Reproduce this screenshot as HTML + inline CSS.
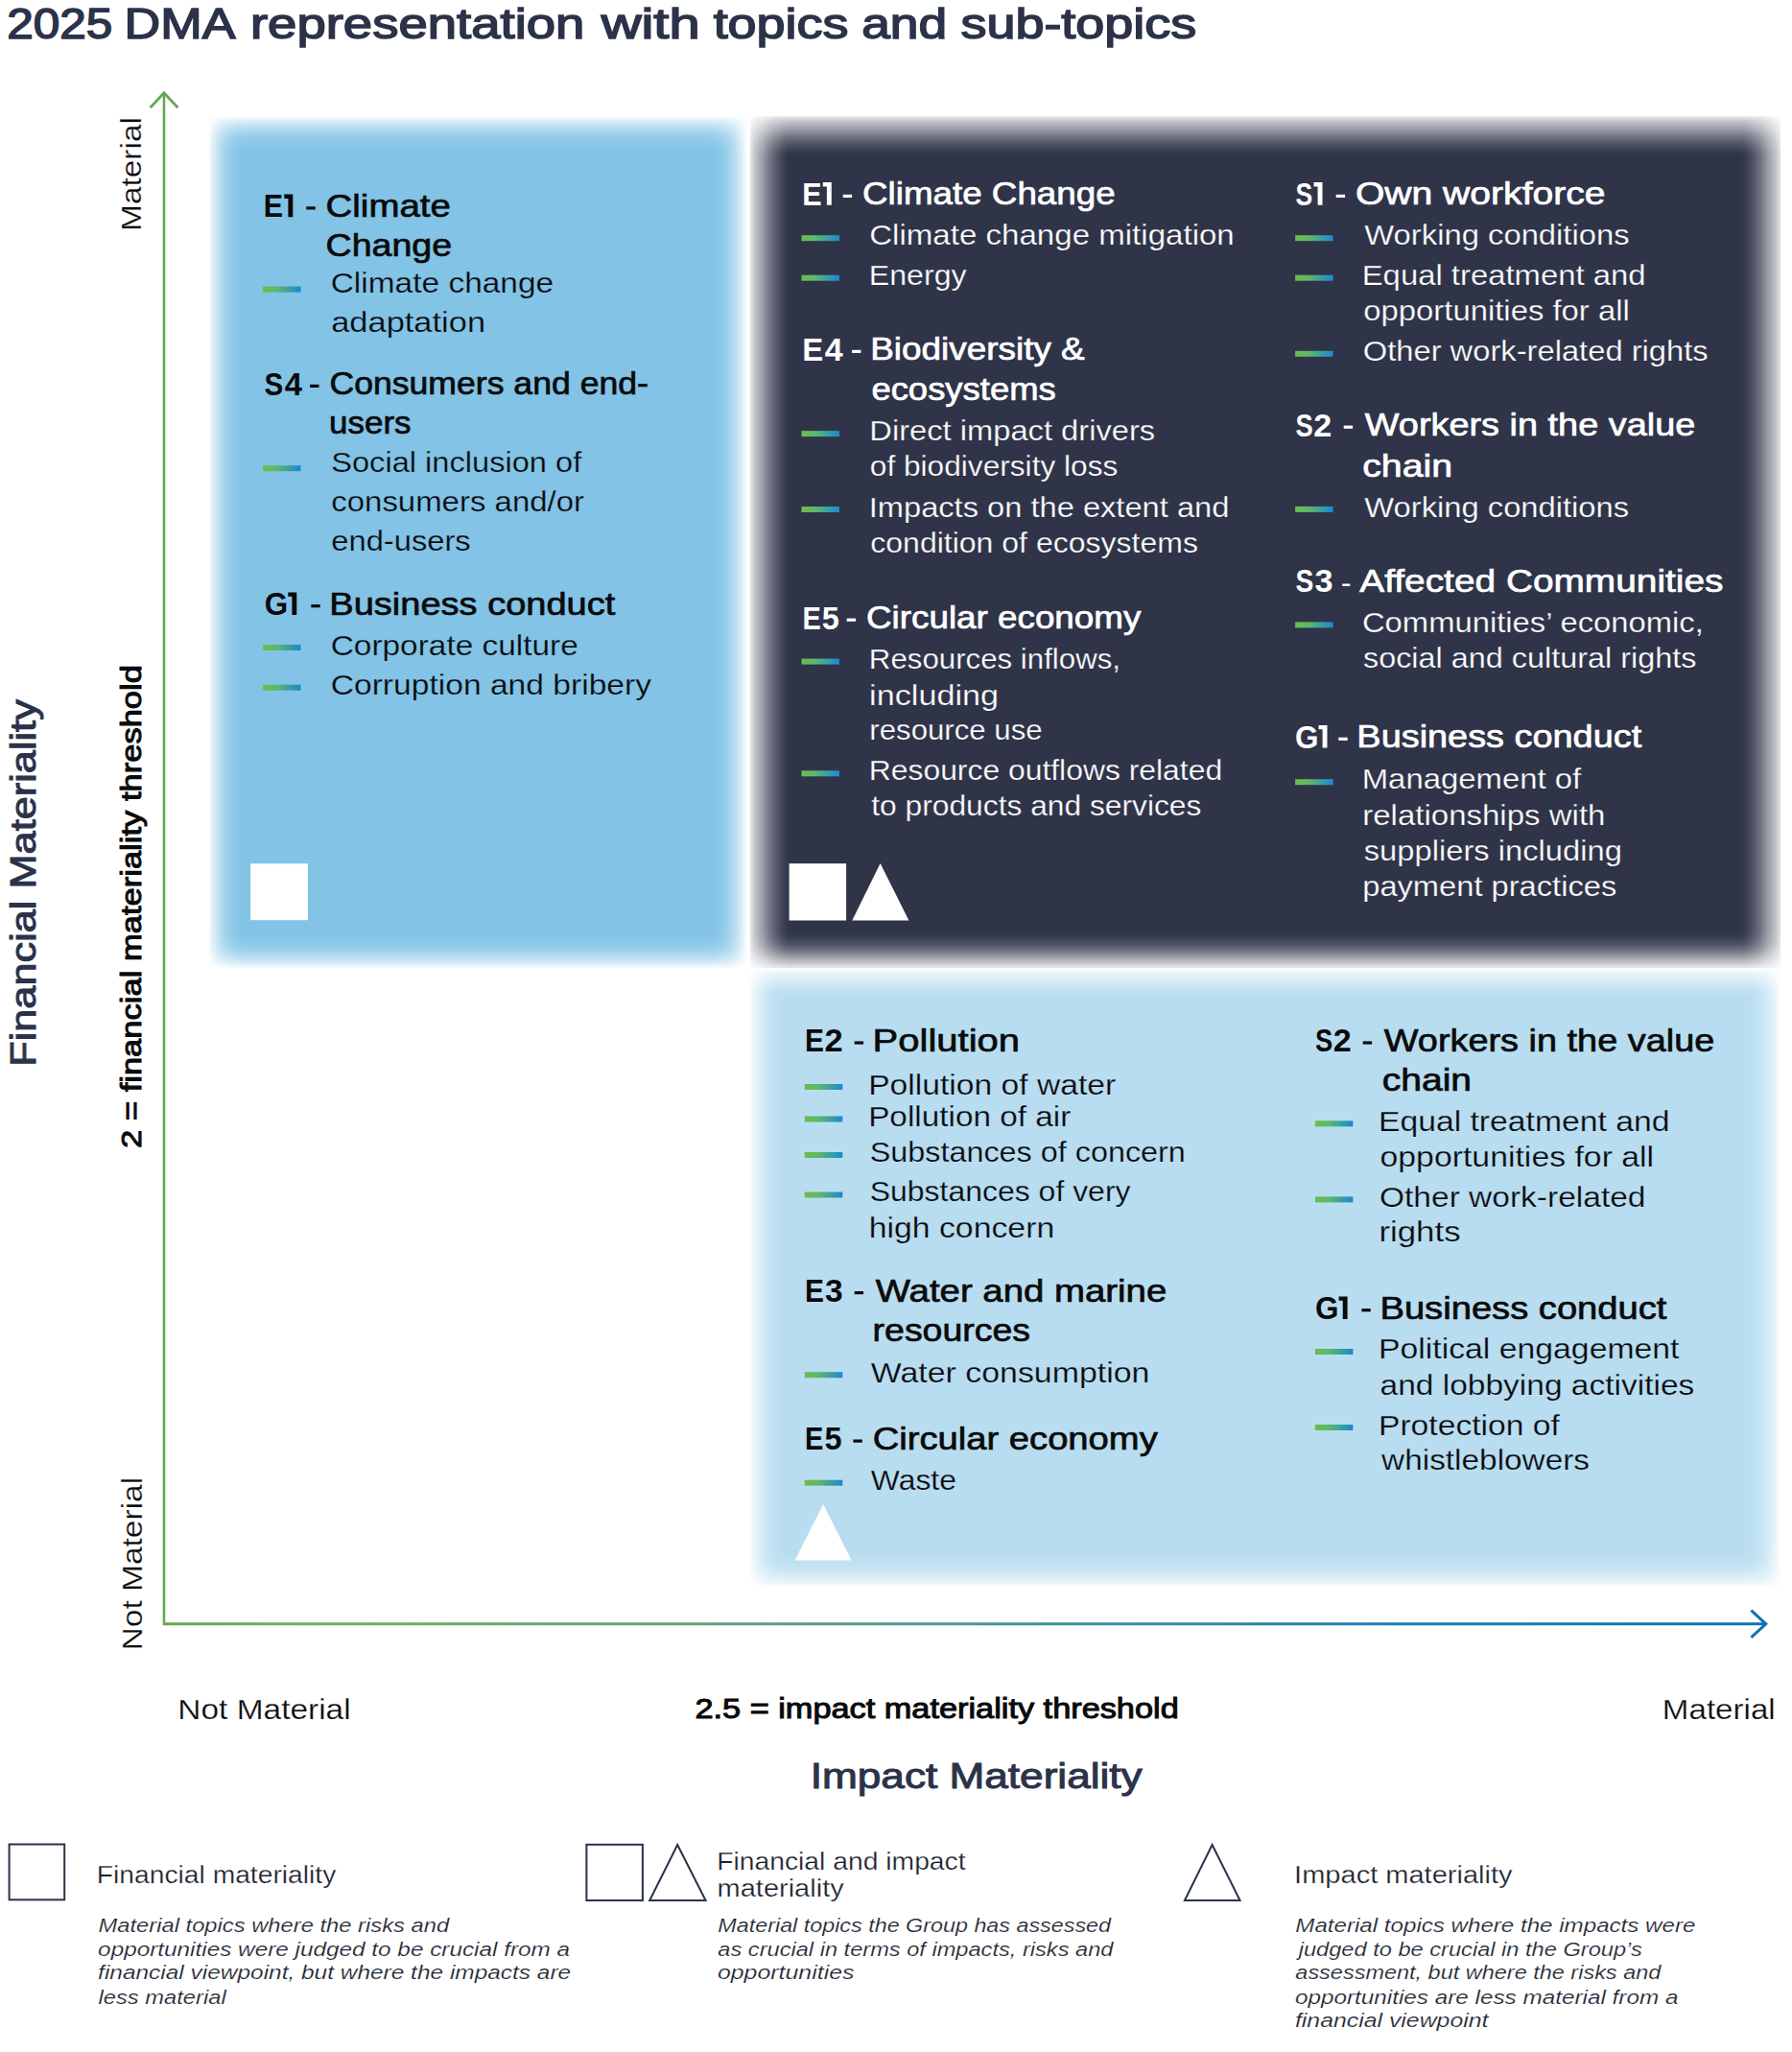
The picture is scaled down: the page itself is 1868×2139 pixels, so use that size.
<!DOCTYPE html>
<html><head><meta charset="utf-8"><title>2025 DMA representation</title>
<style>
html,body{margin:0;padding:0;background:#fff;}
body{width:1868px;height:2139px;overflow:hidden;}
svg{display:block;font-family:"Liberation Sans",sans-serif;}
</style></head><body>
<svg width="1868" height="2139" viewBox="0 0 1868 2139">
<defs>
<linearGradient id="dg" x1="0" y1="0" x2="1" y2="0"><stop offset="0" stop-color="#6cbd48"/><stop offset="0.35" stop-color="#5fb86a"/><stop offset="1" stop-color="#1a8ad0"/></linearGradient>
<linearGradient id="xg" gradientUnits="userSpaceOnUse" x1="170" y1="0" x2="1841" y2="0"><stop offset="0" stop-color="#64a852"/><stop offset="0.078" stop-color="#6fad60"/><stop offset="0.27" stop-color="#66a870"/><stop offset="0.51" stop-color="#4a9498"/><stop offset="0.75" stop-color="#1e7fb0"/><stop offset="1" stop-color="#0a76b4"/></linearGradient>
<linearGradient id="pagh" gradientUnits="userSpaceOnUse" x1="217.5" y1="0" x2="778.0" y2="0"><stop offset="0.00000" stop-color="#fff" stop-opacity="0.070"/><stop offset="0.00268" stop-color="#fff" stop-opacity="0.110"/><stop offset="0.00714" stop-color="#fff" stop-opacity="0.250"/><stop offset="0.01427" stop-color="#fff" stop-opacity="0.410"/><stop offset="0.02141" stop-color="#fff" stop-opacity="0.570"/><stop offset="0.02855" stop-color="#fff" stop-opacity="0.690"/><stop offset="0.03568" stop-color="#fff" stop-opacity="0.800"/><stop offset="0.04460" stop-color="#fff" stop-opacity="0.890"/><stop offset="0.05352" stop-color="#fff" stop-opacity="0.950"/><stop offset="0.06244" stop-color="#fff" stop-opacity="0.985"/><stop offset="0.07136" stop-color="#fff" stop-opacity="1.000"/><stop offset="0.92864" stop-color="#fff" stop-opacity="1.000"/><stop offset="0.93756" stop-color="#fff" stop-opacity="0.985"/><stop offset="0.94648" stop-color="#fff" stop-opacity="0.950"/><stop offset="0.95540" stop-color="#fff" stop-opacity="0.890"/><stop offset="0.96432" stop-color="#fff" stop-opacity="0.800"/><stop offset="0.97145" stop-color="#fff" stop-opacity="0.690"/><stop offset="0.97859" stop-color="#fff" stop-opacity="0.570"/><stop offset="0.98573" stop-color="#fff" stop-opacity="0.410"/><stop offset="0.99286" stop-color="#fff" stop-opacity="0.250"/><stop offset="0.99732" stop-color="#fff" stop-opacity="0.110"/><stop offset="1.00000" stop-color="#fff" stop-opacity="0.070"/></linearGradient>
<linearGradient id="pagv" gradientUnits="userSpaceOnUse" x1="0" y1="121.2" x2="0" y2="1009.5"><stop offset="0.00000" stop-color="#fff" stop-opacity="0.070"/><stop offset="0.00169" stop-color="#fff" stop-opacity="0.110"/><stop offset="0.00450" stop-color="#fff" stop-opacity="0.250"/><stop offset="0.00901" stop-color="#fff" stop-opacity="0.410"/><stop offset="0.01351" stop-color="#fff" stop-opacity="0.570"/><stop offset="0.01801" stop-color="#fff" stop-opacity="0.690"/><stop offset="0.02251" stop-color="#fff" stop-opacity="0.800"/><stop offset="0.02814" stop-color="#fff" stop-opacity="0.890"/><stop offset="0.03377" stop-color="#fff" stop-opacity="0.950"/><stop offset="0.03940" stop-color="#fff" stop-opacity="0.985"/><stop offset="0.04503" stop-color="#fff" stop-opacity="1.000"/><stop offset="0.95497" stop-color="#fff" stop-opacity="1.000"/><stop offset="0.96060" stop-color="#fff" stop-opacity="0.985"/><stop offset="0.96623" stop-color="#fff" stop-opacity="0.950"/><stop offset="0.97186" stop-color="#fff" stop-opacity="0.890"/><stop offset="0.97749" stop-color="#fff" stop-opacity="0.800"/><stop offset="0.98199" stop-color="#fff" stop-opacity="0.690"/><stop offset="0.98649" stop-color="#fff" stop-opacity="0.570"/><stop offset="0.99099" stop-color="#fff" stop-opacity="0.410"/><stop offset="0.99550" stop-color="#fff" stop-opacity="0.250"/><stop offset="0.99831" stop-color="#fff" stop-opacity="0.110"/><stop offset="1.00000" stop-color="#fff" stop-opacity="0.070"/></linearGradient>
<mask id="pamh" style="mask-type:alpha" maskUnits="userSpaceOnUse" x="217.5" y="121.2" width="560.5" height="888.3"><rect x="217.5" y="121.2" width="560.5" height="888.3" fill="url(#pagh)"/></mask>
<mask id="pamv" style="mask-type:alpha" maskUnits="userSpaceOnUse" x="217.5" y="121.2" width="560.5" height="888.3"><rect x="217.5" y="121.2" width="560.5" height="888.3" fill="url(#pagv)"/></mask>
<linearGradient id="pbgh" gradientUnits="userSpaceOnUse" x1="781.5" y1="0" x2="1856.6" y2="0"><stop offset="0.00000" stop-color="#fff" stop-opacity="0.120"/><stop offset="0.00140" stop-color="#fff" stop-opacity="0.160"/><stop offset="0.00437" stop-color="#fff" stop-opacity="0.270"/><stop offset="0.00865" stop-color="#fff" stop-opacity="0.390"/><stop offset="0.01302" stop-color="#fff" stop-opacity="0.490"/><stop offset="0.01814" stop-color="#fff" stop-opacity="0.640"/><stop offset="0.02251" stop-color="#fff" stop-opacity="0.750"/><stop offset="0.02763" stop-color="#fff" stop-opacity="0.850"/><stop offset="0.03265" stop-color="#fff" stop-opacity="0.940"/><stop offset="0.03674" stop-color="#fff" stop-opacity="0.990"/><stop offset="0.04000" stop-color="#fff" stop-opacity="1.000"/><stop offset="0.96000" stop-color="#fff" stop-opacity="1.000"/><stop offset="0.96326" stop-color="#fff" stop-opacity="0.990"/><stop offset="0.96735" stop-color="#fff" stop-opacity="0.940"/><stop offset="0.97237" stop-color="#fff" stop-opacity="0.850"/><stop offset="0.97749" stop-color="#fff" stop-opacity="0.750"/><stop offset="0.98186" stop-color="#fff" stop-opacity="0.640"/><stop offset="0.98698" stop-color="#fff" stop-opacity="0.490"/><stop offset="0.99135" stop-color="#fff" stop-opacity="0.390"/><stop offset="0.99563" stop-color="#fff" stop-opacity="0.270"/><stop offset="0.99860" stop-color="#fff" stop-opacity="0.160"/><stop offset="1.00000" stop-color="#fff" stop-opacity="0.120"/></linearGradient>
<linearGradient id="pbgv" gradientUnits="userSpaceOnUse" x1="0" y1="121.1" x2="0" y2="1009.6"><stop offset="0.00000" stop-color="#fff" stop-opacity="0.120"/><stop offset="0.00169" stop-color="#fff" stop-opacity="0.160"/><stop offset="0.00529" stop-color="#fff" stop-opacity="0.270"/><stop offset="0.01047" stop-color="#fff" stop-opacity="0.390"/><stop offset="0.01576" stop-color="#fff" stop-opacity="0.490"/><stop offset="0.02195" stop-color="#fff" stop-opacity="0.640"/><stop offset="0.02724" stop-color="#fff" stop-opacity="0.750"/><stop offset="0.03343" stop-color="#fff" stop-opacity="0.850"/><stop offset="0.03950" stop-color="#fff" stop-opacity="0.940"/><stop offset="0.04446" stop-color="#fff" stop-opacity="0.990"/><stop offset="0.04840" stop-color="#fff" stop-opacity="1.000"/><stop offset="0.95498" stop-color="#fff" stop-opacity="1.000"/><stop offset="0.95858" stop-color="#fff" stop-opacity="0.990"/><stop offset="0.96421" stop-color="#fff" stop-opacity="0.940"/><stop offset="0.96995" stop-color="#fff" stop-opacity="0.870"/><stop offset="0.97569" stop-color="#fff" stop-opacity="0.770"/><stop offset="0.98143" stop-color="#fff" stop-opacity="0.620"/><stop offset="0.98706" stop-color="#fff" stop-opacity="0.460"/><stop offset="0.99280" stop-color="#fff" stop-opacity="0.300"/><stop offset="0.99707" stop-color="#fff" stop-opacity="0.170"/><stop offset="1.00000" stop-color="#fff" stop-opacity="0.120"/></linearGradient>
<mask id="pbmh" style="mask-type:alpha" maskUnits="userSpaceOnUse" x="781.5" y="121.1" width="1075.1" height="888.5"><rect x="781.5" y="121.1" width="1075.1" height="888.5" fill="url(#pbgh)"/></mask>
<mask id="pbmv" style="mask-type:alpha" maskUnits="userSpaceOnUse" x="781.5" y="121.1" width="1075.1" height="888.5"><rect x="781.5" y="121.1" width="1075.1" height="888.5" fill="url(#pbgv)"/></mask>
<linearGradient id="pcgh" gradientUnits="userSpaceOnUse" x1="781.4" y1="0" x2="1856.0" y2="0"><stop offset="0.00000" stop-color="#fff" stop-opacity="0.070"/><stop offset="0.00140" stop-color="#fff" stop-opacity="0.110"/><stop offset="0.00372" stop-color="#fff" stop-opacity="0.250"/><stop offset="0.00744" stop-color="#fff" stop-opacity="0.410"/><stop offset="0.01117" stop-color="#fff" stop-opacity="0.570"/><stop offset="0.01489" stop-color="#fff" stop-opacity="0.690"/><stop offset="0.01861" stop-color="#fff" stop-opacity="0.800"/><stop offset="0.02326" stop-color="#fff" stop-opacity="0.890"/><stop offset="0.02792" stop-color="#fff" stop-opacity="0.950"/><stop offset="0.03257" stop-color="#fff" stop-opacity="0.985"/><stop offset="0.03722" stop-color="#fff" stop-opacity="1.000"/><stop offset="0.96278" stop-color="#fff" stop-opacity="1.000"/><stop offset="0.96743" stop-color="#fff" stop-opacity="0.985"/><stop offset="0.97208" stop-color="#fff" stop-opacity="0.950"/><stop offset="0.97674" stop-color="#fff" stop-opacity="0.890"/><stop offset="0.98139" stop-color="#fff" stop-opacity="0.800"/><stop offset="0.98511" stop-color="#fff" stop-opacity="0.690"/><stop offset="0.98883" stop-color="#fff" stop-opacity="0.570"/><stop offset="0.99256" stop-color="#fff" stop-opacity="0.410"/><stop offset="0.99628" stop-color="#fff" stop-opacity="0.250"/><stop offset="0.99860" stop-color="#fff" stop-opacity="0.110"/><stop offset="1.00000" stop-color="#fff" stop-opacity="0.070"/></linearGradient>
<linearGradient id="pcgv" gradientUnits="userSpaceOnUse" x1="0" y1="1010.8" x2="0" y2="1654.5"><stop offset="0.00000" stop-color="#fff" stop-opacity="0.180"/><stop offset="0.00233" stop-color="#fff" stop-opacity="0.240"/><stop offset="0.00777" stop-color="#fff" stop-opacity="0.370"/><stop offset="0.01662" stop-color="#fff" stop-opacity="0.550"/><stop offset="0.02548" stop-color="#fff" stop-opacity="0.730"/><stop offset="0.03480" stop-color="#fff" stop-opacity="0.920"/><stop offset="0.04350" stop-color="#fff" stop-opacity="1.000"/><stop offset="0.93786" stop-color="#fff" stop-opacity="1.000"/><stop offset="0.94563" stop-color="#fff" stop-opacity="0.985"/><stop offset="0.95339" stop-color="#fff" stop-opacity="0.950"/><stop offset="0.96116" stop-color="#fff" stop-opacity="0.890"/><stop offset="0.96893" stop-color="#fff" stop-opacity="0.800"/><stop offset="0.97514" stop-color="#fff" stop-opacity="0.690"/><stop offset="0.98136" stop-color="#fff" stop-opacity="0.570"/><stop offset="0.98757" stop-color="#fff" stop-opacity="0.410"/><stop offset="0.99379" stop-color="#fff" stop-opacity="0.250"/><stop offset="0.99767" stop-color="#fff" stop-opacity="0.110"/><stop offset="1.00000" stop-color="#fff" stop-opacity="0.070"/></linearGradient>
<mask id="pcmh" style="mask-type:alpha" maskUnits="userSpaceOnUse" x="781.4" y="1010.8" width="1074.6" height="643.7"><rect x="781.4" y="1010.8" width="1074.6" height="643.7" fill="url(#pcgh)"/></mask>
<mask id="pcmv" style="mask-type:alpha" maskUnits="userSpaceOnUse" x="781.4" y="1010.8" width="1074.6" height="643.7"><rect x="781.4" y="1010.8" width="1074.6" height="643.7" fill="url(#pcgv)"/></mask>
</defs>
<rect width="1868" height="2139" fill="#fff"/>
<g mask="url(#pamh)"><rect x="217.5" y="121.2" width="560.5" height="888.3" fill="#82c3e6" mask="url(#pamv)"/></g>
<g mask="url(#pbmh)"><rect x="781.5" y="121.1" width="1075.1" height="888.5" fill="#2f3449" mask="url(#pbmv)"/></g>
<g mask="url(#pcmh)"><rect x="781.4" y="1010.8" width="1074.6" height="643.7" fill="#b8ddf0" mask="url(#pcmv)"/></g>

<rect x="261.2" y="900.2" width="59.8" height="59" fill="#fff"/>
<rect x="822.6" y="900.1" width="59.5" height="59.4" fill="#fff"/>
<polygon points="917.6,900.1 947.4,959.5 888.3,959.5" fill="#fff"/>
<polygon points="858.2,1568 887.5,1626.6 828.6,1626.6" fill="#fff"/>
<line x1="171" y1="96" x2="171" y2="1694" stroke="#64a852" stroke-width="2.6"/>
<polyline points="156.6,112.3 171,96.8 185.4,112.3" fill="none" stroke="#64a852" stroke-width="2.8"/>
<line x1="169.8" y1="1692.8" x2="1841" y2="1692.8" stroke="url(#xg)" stroke-width="2.9"/>
<polyline points="1825.4,1678.6 1840.8,1692.8 1825.4,1706.8" fill="none" stroke="#0a74b4" stroke-width="3"/>
<rect x="9.6" y="1922.5" width="57.6" height="57.8" fill="none" stroke="#2b3249" stroke-width="2"/>
<rect x="611.4" y="1922.8" width="58.5" height="58.2" fill="none" stroke="#2b3249" stroke-width="2"/>
<polygon points="706.2,1923 735.6,1981 677.2,1981" fill="none" stroke="#2b3249" stroke-width="2"/>
<polygon points="1263.6,1923 1292.6,1981 1234.9,1981" fill="none" stroke="#2b3249" stroke-width="2"/>

<rect x="274.2" y="298.6" width="39.3" height="6" fill="url(#dg)"/><rect x="274.2" y="485.2" width="39.3" height="6" fill="url(#dg)"/><rect x="274.2" y="672.0" width="39.3" height="6" fill="url(#dg)"/><rect x="274.2" y="713.7" width="39.3" height="6" fill="url(#dg)"/><rect x="835.5" y="245.2" width="39.5" height="6" fill="url(#dg)"/><rect x="835.5" y="286.7" width="39.5" height="6" fill="url(#dg)"/><rect x="835.5" y="449.1" width="39.5" height="6" fill="url(#dg)"/><rect x="835.5" y="528.0" width="39.5" height="6" fill="url(#dg)"/><rect x="835.5" y="686.6" width="39.5" height="6" fill="url(#dg)"/><rect x="835.5" y="803.3" width="39.5" height="6" fill="url(#dg)"/><rect x="1350.1" y="245.2" width="39.5" height="6" fill="url(#dg)"/><rect x="1350.1" y="286.7" width="39.5" height="6" fill="url(#dg)"/><rect x="1350.1" y="365.8" width="39.5" height="6" fill="url(#dg)"/><rect x="1350.1" y="527.9" width="39.5" height="6" fill="url(#dg)"/><rect x="1350.1" y="648.4" width="39.5" height="6" fill="url(#dg)"/><rect x="1350.1" y="812.2" width="39.5" height="6" fill="url(#dg)"/><rect x="838.8" y="1130.0" width="39.5" height="6" fill="url(#dg)"/><rect x="838.8" y="1163.5" width="39.5" height="6" fill="url(#dg)"/><rect x="838.8" y="1201.0" width="39.5" height="6" fill="url(#dg)"/><rect x="838.8" y="1242.5" width="39.5" height="6" fill="url(#dg)"/><rect x="838.8" y="1430.2" width="39.5" height="6" fill="url(#dg)"/><rect x="838.8" y="1542.7" width="39.5" height="6" fill="url(#dg)"/><rect x="1370.9" y="1168.3" width="39.5" height="6" fill="url(#dg)"/><rect x="1370.9" y="1247.4" width="39.5" height="6" fill="url(#dg)"/><rect x="1370.9" y="1406.0" width="39.5" height="6" fill="url(#dg)"/><rect x="1370.9" y="1485.0" width="39.5" height="6" fill="url(#dg)"/>
<text x="339.55" y="225.85" font-size="33.4" font-weight="400" fill="#0a0a0a" stroke="#0a0a0a" stroke-width="0.7" textLength="130.36" lengthAdjust="spacingAndGlyphs">Climate</text>
<text x="274.80" y="226.20" font-size="34" font-weight="700" fill="#0a0a0a" textLength="20.31" lengthAdjust="spacingAndGlyphs">E</text>
<path d="M300.4,202.6H305.3V226.2H300.4V206.9H296.3V202.6Z" fill="#0a0a0a"/>
<text x="343.48" y="411.35" font-size="33.4" font-weight="400" fill="#0a0a0a" stroke="#0a0a0a" stroke-width="0.7" textLength="332.46" lengthAdjust="spacingAndGlyphs">Consumers and end-</text>
<text x="275.54" y="411.70" font-size="34" font-weight="700" fill="#0a0a0a" textLength="19.69" lengthAdjust="spacingAndGlyphs">S</text>
<text x="296.85" y="411.70" font-size="34" font-weight="700" fill="#0a0a0a" textLength="18.24" lengthAdjust="spacingAndGlyphs">4</text>
<text x="343.38" y="640.65" font-size="33.4" font-weight="400" fill="#0a0a0a" stroke="#0a0a0a" stroke-width="0.7" textLength="297.94" lengthAdjust="spacingAndGlyphs">Business conduct</text>
<text x="275.72" y="641.00" font-size="34" font-weight="700" fill="#0a0a0a" textLength="24.44" lengthAdjust="spacingAndGlyphs">G</text>
<path d="M304.4,617.4H309.3V641.0H304.4V621.7H300.3V617.4Z" fill="#0a0a0a"/>
<text x="899.03" y="213.35" font-size="33.4" font-weight="400" fill="#ffffff" stroke="#ffffff" stroke-width="0.7" textLength="263.61" lengthAdjust="spacingAndGlyphs">Climate Change</text>
<text x="836.30" y="213.70" font-size="34" font-weight="700" fill="#ffffff" textLength="20.31" lengthAdjust="spacingAndGlyphs">E</text>
<path d="M861.9,190.1H866.8V213.7H861.9V194.4H857.8V190.1Z" fill="#ffffff"/>
<text x="907.17" y="375.35" font-size="33.4" font-weight="400" fill="#ffffff" stroke="#ffffff" stroke-width="0.7" textLength="223.58" lengthAdjust="spacingAndGlyphs">Biodiversity &amp;</text>
<text x="836.14" y="375.70" font-size="34" font-weight="700" fill="#ffffff" textLength="21.98" lengthAdjust="spacingAndGlyphs">E</text>
<text x="859.65" y="375.70" font-size="34" font-weight="700" fill="#ffffff" textLength="18.84" lengthAdjust="spacingAndGlyphs">4</text>
<text x="903.02" y="655.15" font-size="33.4" font-weight="400" fill="#ffffff" stroke="#ffffff" stroke-width="0.7" textLength="286.33" lengthAdjust="spacingAndGlyphs">Circular economy</text>
<text x="836.39" y="655.50" font-size="34" font-weight="700" fill="#ffffff" textLength="19.32" lengthAdjust="spacingAndGlyphs">E</text>
<text x="856.84" y="655.50" font-size="34" font-weight="700" fill="#ffffff" textLength="18.07" lengthAdjust="spacingAndGlyphs">5</text>
<text x="1412.92" y="213.35" font-size="33.4" font-weight="400" fill="#ffffff" stroke="#ffffff" stroke-width="0.7" textLength="260.62" lengthAdjust="spacingAndGlyphs">Own workforce</text>
<text x="1350.49" y="213.70" font-size="34" font-weight="700" fill="#ffffff" textLength="17.72" lengthAdjust="spacingAndGlyphs">S</text>
<path d="M1373.6,190.1H1378.5V213.7H1373.6V194.4H1369.5V190.1Z" fill="#ffffff"/>
<text x="1422.75" y="454.15" font-size="33.4" font-weight="400" fill="#ffffff" stroke="#ffffff" stroke-width="0.7" textLength="344.53" lengthAdjust="spacingAndGlyphs">Workers in the value</text>
<text x="1350.47" y="454.50" font-size="34" font-weight="700" fill="#ffffff" textLength="18.25" lengthAdjust="spacingAndGlyphs">S</text>
<text x="1369.33" y="454.50" font-size="34" font-weight="700" fill="#ffffff" textLength="19.02" lengthAdjust="spacingAndGlyphs">2</text>
<text x="1417.35" y="617.05" font-size="33.4" font-weight="400" fill="#ffffff" stroke="#ffffff" stroke-width="0.7" textLength="379.11" lengthAdjust="spacingAndGlyphs">Affected Communities</text>
<text x="1350.46" y="617.40" font-size="34" font-weight="700" fill="#ffffff" textLength="18.84" lengthAdjust="spacingAndGlyphs">S</text>
<text x="1370.42" y="617.40" font-size="34" font-weight="700" fill="#ffffff" textLength="19.04" lengthAdjust="spacingAndGlyphs">3</text>
<text x="1414.39" y="779.25" font-size="33.4" font-weight="400" fill="#ffffff" stroke="#ffffff" stroke-width="0.7" textLength="296.83" lengthAdjust="spacingAndGlyphs">Business conduct</text>
<text x="1349.92" y="779.60" font-size="34" font-weight="700" fill="#ffffff" textLength="24.44" lengthAdjust="spacingAndGlyphs">G</text>
<path d="M1378.6,756.0H1383.5V779.6H1378.6V760.3H1374.5V756.0Z" fill="#ffffff"/>
<text x="909.63" y="1095.95" font-size="33.4" font-weight="400" fill="#0a0a0a" stroke="#0a0a0a" stroke-width="0.7" textLength="153.37" lengthAdjust="spacingAndGlyphs">Pollution</text>
<text x="839.03" y="1096.30" font-size="34" font-weight="700" fill="#0a0a0a" textLength="19.96" lengthAdjust="spacingAndGlyphs">E</text>
<text x="859.52" y="1096.30" font-size="34" font-weight="700" fill="#0a0a0a" textLength="19.24" lengthAdjust="spacingAndGlyphs">2</text>
<text x="912.75" y="1356.55" font-size="33.4" font-weight="400" fill="#0a0a0a" stroke="#0a0a0a" stroke-width="0.7" textLength="303.56" lengthAdjust="spacingAndGlyphs">Water and marine</text>
<text x="839.03" y="1356.90" font-size="34" font-weight="700" fill="#0a0a0a" textLength="19.96" lengthAdjust="spacingAndGlyphs">E</text>
<text x="860.08" y="1356.90" font-size="34" font-weight="700" fill="#0a0a0a" textLength="18.66" lengthAdjust="spacingAndGlyphs">3</text>
<text x="909.66" y="1511.05" font-size="33.4" font-weight="400" fill="#0a0a0a" stroke="#0a0a0a" stroke-width="0.7" textLength="297.09" lengthAdjust="spacingAndGlyphs">Circular economy</text>
<text x="839.09" y="1511.40" font-size="34" font-weight="700" fill="#0a0a0a" textLength="19.32" lengthAdjust="spacingAndGlyphs">E</text>
<text x="859.54" y="1511.40" font-size="34" font-weight="700" fill="#0a0a0a" textLength="18.07" lengthAdjust="spacingAndGlyphs">5</text>
<text x="1442.75" y="1095.95" font-size="33.4" font-weight="400" fill="#0a0a0a" stroke="#0a0a0a" stroke-width="0.7" textLength="344.53" lengthAdjust="spacingAndGlyphs">Workers in the value</text>
<text x="1370.97" y="1096.30" font-size="34" font-weight="700" fill="#0a0a0a" textLength="18.25" lengthAdjust="spacingAndGlyphs">S</text>
<text x="1389.83" y="1096.30" font-size="34" font-weight="700" fill="#0a0a0a" textLength="19.02" lengthAdjust="spacingAndGlyphs">2</text>
<text x="1438.47" y="1374.65" font-size="33.4" font-weight="400" fill="#0a0a0a" stroke="#0a0a0a" stroke-width="0.7" textLength="298.95" lengthAdjust="spacingAndGlyphs">Business conduct</text>
<text x="1371.02" y="1375.00" font-size="34" font-weight="700" fill="#0a0a0a" textLength="24.44" lengthAdjust="spacingAndGlyphs">G</text>
<path d="M1399.7,1351.4H1404.6V1375.0H1399.7V1355.7H1395.6V1351.4Z" fill="#0a0a0a"/>
<rect x="319.3" y="215.3" width="9.4" height="3.2" fill="#0a0a0a"/>
<rect x="323.1" y="400.8" width="9.4" height="3.2" fill="#0a0a0a"/>
<rect x="324.3" y="630.1" width="9.4" height="3.2" fill="#0a0a0a"/>
<rect x="878.7" y="202.8" width="9.4" height="3.2" fill="#ffffff"/>
<rect x="888.0" y="364.8" width="9.4" height="3.2" fill="#ffffff"/>
<rect x="882.7" y="644.6" width="9.4" height="3.2" fill="#ffffff"/>
<rect x="1392.7" y="202.8" width="9.4" height="3.2" fill="#ffffff"/>
<rect x="1400.7" y="443.6" width="9.4" height="3.2" fill="#ffffff"/>
<rect x="1399.2" y="608.5" width="8.1" height="2.5" fill="#ffffff"/>
<rect x="1395.3" y="768.7" width="9.4" height="3.2" fill="#ffffff"/>
<rect x="890.7" y="1085.4" width="9.4" height="3.2" fill="#0a0a0a"/>
<rect x="890.7" y="1346.0" width="9.4" height="3.2" fill="#0a0a0a"/>
<rect x="889.4" y="1500.5" width="9.4" height="3.2" fill="#0a0a0a"/>
<rect x="1420.7" y="1085.4" width="9.4" height="3.2" fill="#0a0a0a"/>
<rect x="1419.4" y="1364.1" width="9.4" height="3.2" fill="#0a0a0a"/>
<text x="7.33" y="40.25" font-size="44.5" font-weight="400" fill="#2b3249" stroke="#2b3249" stroke-width="1.5" textLength="110.02" lengthAdjust="spacingAndGlyphs">2025</text>
<text x="129.58" y="40.25" font-size="44.5" font-weight="400" fill="#2b3249" stroke="#2b3249" stroke-width="1.5" textLength="115.82" lengthAdjust="spacingAndGlyphs">DMA</text>
<text x="260.94" y="40.25" font-size="44.5" font-weight="400" fill="#2b3249" stroke="#2b3249" stroke-width="1.5" textLength="348.47" lengthAdjust="spacingAndGlyphs">representation</text>
<text x="626.65" y="40.25" font-size="44.5" font-weight="400" fill="#2b3249" stroke="#2b3249" stroke-width="1.5" textLength="102.95" lengthAdjust="spacingAndGlyphs">with</text>
<text x="743.65" y="40.25" font-size="44.5" font-weight="400" fill="#2b3249" stroke="#2b3249" stroke-width="1.5" textLength="140.89" lengthAdjust="spacingAndGlyphs">topics</text>
<text x="898.18" y="40.25" font-size="44.5" font-weight="400" fill="#2b3249" stroke="#2b3249" stroke-width="1.5" textLength="88.96" lengthAdjust="spacingAndGlyphs">and</text>
<text x="1001.41" y="40.25" font-size="44.5" font-weight="400" fill="#2b3249" stroke="#2b3249" stroke-width="1.5" textLength="245.93" lengthAdjust="spacingAndGlyphs">sub-topics</text>
<text x="339.59" y="266.85" font-size="33.4" font-weight="400" fill="#0a0a0a" stroke="#0a0a0a" stroke-width="0.7" textLength="131.58" lengthAdjust="spacingAndGlyphs">Change</text>
<text x="344.71" y="304.93" font-size="29.5" font-weight="400" fill="#0a0a0a" stroke="#82c3e6" stroke-width="0.25" textLength="232.47" lengthAdjust="spacingAndGlyphs">Climate change</text>
<text x="345.20" y="345.93" font-size="29.5" font-weight="400" fill="#0a0a0a" stroke="#82c3e6" stroke-width="0.25" textLength="160.86" lengthAdjust="spacingAndGlyphs">adaptation</text>
<text x="342.96" y="452.25" font-size="33.4" font-weight="400" fill="#0a0a0a" stroke="#0a0a0a" stroke-width="0.7" textLength="85.58" lengthAdjust="spacingAndGlyphs">users</text>
<text x="345.26" y="492.02" font-size="29.5" font-weight="400" fill="#0a0a0a" stroke="#82c3e6" stroke-width="0.25" textLength="260.96" lengthAdjust="spacingAndGlyphs">Social inclusion of</text>
<text x="345.25" y="533.02" font-size="29.5" font-weight="400" fill="#0a0a0a" stroke="#82c3e6" stroke-width="0.25" textLength="263.74" lengthAdjust="spacingAndGlyphs">consumers and/or</text>
<text x="345.25" y="574.33" font-size="29.5" font-weight="400" fill="#0a0a0a" stroke="#82c3e6" stroke-width="0.25" textLength="145.49" lengthAdjust="spacingAndGlyphs">end-users</text>
<text x="344.71" y="682.83" font-size="29.5" font-weight="400" fill="#0a0a0a" stroke="#82c3e6" stroke-width="0.25" textLength="258.07" lengthAdjust="spacingAndGlyphs">Corporate culture</text>
<text x="344.70" y="724.12" font-size="29.5" font-weight="400" fill="#0a0a0a" stroke="#82c3e6" stroke-width="0.25" textLength="334.33" lengthAdjust="spacingAndGlyphs">Corruption and bribery</text>
<text x="906.22" y="255.32" font-size="29.5" font-weight="400" fill="#ffffff" stroke="#2f3449" stroke-width="0.25" textLength="380.56" lengthAdjust="spacingAndGlyphs">Climate change mitigation</text>
<text x="905.76" y="297.32" font-size="29.5" font-weight="400" fill="#ffffff" stroke="#2f3449" stroke-width="0.25" textLength="101.86" lengthAdjust="spacingAndGlyphs">Energy</text>
<text x="908.41" y="417.45" font-size="33.4" font-weight="400" fill="#ffffff" stroke="#ffffff" stroke-width="0.7" textLength="192.28" lengthAdjust="spacingAndGlyphs">ecosystems</text>
<text x="906.32" y="459.43" font-size="29.5" font-weight="400" fill="#ffffff" stroke="#2f3449" stroke-width="0.25" textLength="297.82" lengthAdjust="spacingAndGlyphs">Direct impact drivers</text>
<text x="906.79" y="496.32" font-size="29.5" font-weight="400" fill="#ffffff" stroke="#2f3449" stroke-width="0.25" textLength="258.53" lengthAdjust="spacingAndGlyphs">of biodiversity loss</text>
<text x="905.72" y="539.12" font-size="29.5" font-weight="400" fill="#ffffff" stroke="#2f3449" stroke-width="0.25" textLength="375.63" lengthAdjust="spacingAndGlyphs">Impacts on the extent and</text>
<text x="907.27" y="575.83" font-size="29.5" font-weight="400" fill="#ffffff" stroke="#2f3449" stroke-width="0.25" textLength="341.65" lengthAdjust="spacingAndGlyphs">condition of ecosystems</text>
<text x="905.83" y="696.62" font-size="29.5" font-weight="400" fill="#ffffff" stroke="#2f3449" stroke-width="0.25" textLength="262.23" lengthAdjust="spacingAndGlyphs">Resources inflows,</text>
<text x="906.14" y="734.73" font-size="29.5" font-weight="400" fill="#ffffff" stroke="#2f3449" stroke-width="0.25" textLength="135.01" lengthAdjust="spacingAndGlyphs">including</text>
<text x="906.33" y="771.02" font-size="29.5" font-weight="400" fill="#ffffff" stroke="#2f3449" stroke-width="0.25" textLength="180.26" lengthAdjust="spacingAndGlyphs">resource use</text>
<text x="905.79" y="813.33" font-size="29.5" font-weight="400" fill="#ffffff" stroke="#2f3449" stroke-width="0.25" textLength="368.33" lengthAdjust="spacingAndGlyphs">Resource outflows related</text>
<text x="908.27" y="850.02" font-size="29.5" font-weight="400" fill="#ffffff" stroke="#2f3449" stroke-width="0.25" textLength="344.14" lengthAdjust="spacingAndGlyphs">to products and services</text>
<text x="1422.28" y="255.32" font-size="29.5" font-weight="400" fill="#ffffff" stroke="#2f3449" stroke-width="0.25" textLength="276.37" lengthAdjust="spacingAndGlyphs">Working conditions</text>
<text x="1419.71" y="296.52" font-size="29.5" font-weight="400" fill="#ffffff" stroke="#2f3449" stroke-width="0.25" textLength="295.86" lengthAdjust="spacingAndGlyphs">Equal treatment and</text>
<text x="1421.25" y="334.02" font-size="29.5" font-weight="400" fill="#ffffff" stroke="#2f3449" stroke-width="0.25" textLength="277.54" lengthAdjust="spacingAndGlyphs">opportunities for all</text>
<text x="1420.74" y="375.82" font-size="29.5" font-weight="400" fill="#ffffff" stroke="#2f3449" stroke-width="0.25" textLength="359.91" lengthAdjust="spacingAndGlyphs">Other work-related rights</text>
<text x="1420.22" y="496.55" font-size="33.4" font-weight="400" fill="#ffffff" stroke="#ffffff" stroke-width="0.7" textLength="93.83" lengthAdjust="spacingAndGlyphs">chain</text>
<text x="1422.28" y="538.52" font-size="29.5" font-weight="400" fill="#ffffff" stroke="#2f3449" stroke-width="0.25" textLength="275.87" lengthAdjust="spacingAndGlyphs">Working conditions</text>
<text x="1419.94" y="659.02" font-size="29.5" font-weight="400" fill="#ffffff" stroke="#2f3449" stroke-width="0.25" textLength="355.92" lengthAdjust="spacingAndGlyphs">Communities’ economic,</text>
<text x="1420.97" y="696.02" font-size="29.5" font-weight="400" fill="#ffffff" stroke="#2f3449" stroke-width="0.25" textLength="347.37" lengthAdjust="spacingAndGlyphs">social and cultural rights</text>
<text x="1419.71" y="821.73" font-size="29.5" font-weight="400" fill="#ffffff" stroke="#2f3449" stroke-width="0.25" textLength="228.51" lengthAdjust="spacingAndGlyphs">Management of</text>
<text x="1420.21" y="860.02" font-size="29.5" font-weight="400" fill="#ffffff" stroke="#2f3449" stroke-width="0.25" textLength="253.27" lengthAdjust="spacingAndGlyphs">relationships with</text>
<text x="1421.76" y="896.73" font-size="29.5" font-weight="400" fill="#ffffff" stroke="#2f3449" stroke-width="0.25" textLength="269.10" lengthAdjust="spacingAndGlyphs">suppliers including</text>
<text x="1420.23" y="934.23" font-size="29.5" font-weight="400" fill="#ffffff" stroke="#2f3449" stroke-width="0.25" textLength="265.01" lengthAdjust="spacingAndGlyphs">payment practices</text>
<text x="905.15" y="1141.22" font-size="29.5" font-weight="400" fill="#0a0a0a" stroke="#b8ddf0" stroke-width="0.25" textLength="258.04" lengthAdjust="spacingAndGlyphs">Pollution of water</text>
<text x="905.17" y="1173.92" font-size="29.5" font-weight="400" fill="#0a0a0a" stroke="#b8ddf0" stroke-width="0.25" textLength="211.12" lengthAdjust="spacingAndGlyphs">Pollution of air</text>
<text x="906.76" y="1211.42" font-size="29.5" font-weight="400" fill="#0a0a0a" stroke="#b8ddf0" stroke-width="0.25" textLength="329.08" lengthAdjust="spacingAndGlyphs">Substances of concern</text>
<text x="906.78" y="1251.53" font-size="29.5" font-weight="400" fill="#0a0a0a" stroke="#b8ddf0" stroke-width="0.25" textLength="271.75" lengthAdjust="spacingAndGlyphs">Substances of very</text>
<text x="905.66" y="1289.83" font-size="29.5" font-weight="400" fill="#0a0a0a" stroke="#b8ddf0" stroke-width="0.25" textLength="193.56" lengthAdjust="spacingAndGlyphs">high concern</text>
<text x="909.61" y="1398.05" font-size="33.4" font-weight="400" fill="#0a0a0a" stroke="#0a0a0a" stroke-width="0.7" textLength="164.31" lengthAdjust="spacingAndGlyphs">resources</text>
<text x="907.77" y="1441.42" font-size="29.5" font-weight="400" fill="#0a0a0a" stroke="#b8ddf0" stroke-width="0.25" textLength="290.65" lengthAdjust="spacingAndGlyphs">Water consumption</text>
<text x="907.77" y="1552.53" font-size="29.5" font-weight="400" fill="#0a0a0a" stroke="#b8ddf0" stroke-width="0.25" textLength="89.14" lengthAdjust="spacingAndGlyphs">Waste</text>
<text x="1440.73" y="1136.75" font-size="33.4" font-weight="400" fill="#0a0a0a" stroke="#0a0a0a" stroke-width="0.7" textLength="93.31" lengthAdjust="spacingAndGlyphs">chain</text>
<text x="1436.94" y="1179.22" font-size="29.5" font-weight="400" fill="#0a0a0a" stroke="#b8ddf0" stroke-width="0.25" textLength="303.47" lengthAdjust="spacingAndGlyphs">Equal treatment and</text>
<text x="1438.52" y="1215.62" font-size="29.5" font-weight="400" fill="#0a0a0a" stroke="#b8ddf0" stroke-width="0.25" textLength="285.63" lengthAdjust="spacingAndGlyphs">opportunities for all</text>
<text x="1438.00" y="1257.72" font-size="29.5" font-weight="400" fill="#0a0a0a" stroke="#b8ddf0" stroke-width="0.25" textLength="277.50" lengthAdjust="spacingAndGlyphs">Other work-related</text>
<text x="1437.40" y="1294.42" font-size="29.5" font-weight="400" fill="#0a0a0a" stroke="#b8ddf0" stroke-width="0.25" textLength="85.22" lengthAdjust="spacingAndGlyphs">rights</text>
<text x="1436.94" y="1416.42" font-size="29.5" font-weight="400" fill="#0a0a0a" stroke="#b8ddf0" stroke-width="0.25" textLength="313.57" lengthAdjust="spacingAndGlyphs">Political engagement</text>
<text x="1438.53" y="1453.92" font-size="29.5" font-weight="400" fill="#0a0a0a" stroke="#b8ddf0" stroke-width="0.25" textLength="327.84" lengthAdjust="spacingAndGlyphs">and lobbying activities</text>
<text x="1436.95" y="1495.62" font-size="29.5" font-weight="400" fill="#0a0a0a" stroke="#b8ddf0" stroke-width="0.25" textLength="188.96" lengthAdjust="spacingAndGlyphs">Protection of</text>
<text x="1440.10" y="1532.33" font-size="29.5" font-weight="400" fill="#0a0a0a" stroke="#b8ddf0" stroke-width="0.25" textLength="216.97" lengthAdjust="spacingAndGlyphs">whistleblowers</text>
<text x="185.36" y="1792.22" font-size="30" font-weight="400" fill="#0a0a0a" stroke="#ffffff" stroke-width="0.25" textLength="180.27" lengthAdjust="spacingAndGlyphs">Not Material</text>
<text x="724.49" y="1791.10" font-size="29.3" font-weight="400" fill="#0a0a0a" stroke="#0a0a0a" stroke-width="1.0" textLength="504.23" lengthAdjust="spacingAndGlyphs">2.5 = impact materiality threshold</text>
<text x="1732.89" y="1791.92" font-size="30" font-weight="400" fill="#0a0a0a" stroke="#ffffff" stroke-width="0.25" textLength="117.82" lengthAdjust="spacingAndGlyphs">Material</text>
<text x="844.75" y="1863.50" font-size="37.5" font-weight="400" fill="#2b3249" stroke="#2b3249" stroke-width="1.0" textLength="345.95" lengthAdjust="spacingAndGlyphs">Impact Materiality</text>
<text x="100.77" y="1963.12" font-size="26" font-weight="400" fill="#1c1f2e" stroke="#ffffff" stroke-width="0.25" textLength="249.56" lengthAdjust="spacingAndGlyphs">Financial materiality</text>
<text x="102.53" y="2014.30" font-size="21" font-weight="400" fill="#1c1f2e" font-style="italic" stroke="#ffffff" stroke-width="0.2" textLength="365.58" lengthAdjust="spacingAndGlyphs">Material topics where the risks and</text>
<text x="102.14" y="2039.20" font-size="21" font-weight="400" fill="#1c1f2e" font-style="italic" stroke="#ffffff" stroke-width="0.2" textLength="491.97" lengthAdjust="spacingAndGlyphs">opportunities were judged to be crucial from a</text>
<text x="102.14" y="2063.40" font-size="21" font-weight="400" fill="#1c1f2e" font-style="italic" stroke="#ffffff" stroke-width="0.2" textLength="493.07" lengthAdjust="spacingAndGlyphs">financial viewpoint, but where the impacts are</text>
<text x="102.53" y="2088.70" font-size="21" font-weight="400" fill="#1c1f2e" font-style="italic" stroke="#ffffff" stroke-width="0.2" textLength="133.21" lengthAdjust="spacingAndGlyphs">less material</text>
<text x="747.16" y="1949.22" font-size="26" font-weight="400" fill="#1c1f2e" stroke="#ffffff" stroke-width="0.25" textLength="259.46" lengthAdjust="spacingAndGlyphs">Financial and impact</text>
<text x="747.56" y="1976.92" font-size="26" font-weight="400" fill="#1c1f2e" stroke="#ffffff" stroke-width="0.25" textLength="132.16" lengthAdjust="spacingAndGlyphs">materiality</text>
<text x="748.34" y="2014.30" font-size="21" font-weight="400" fill="#1c1f2e" font-style="italic" stroke="#ffffff" stroke-width="0.2" textLength="409.69" lengthAdjust="spacingAndGlyphs">Material topics the Group has assessed</text>
<text x="748.33" y="2039.20" font-size="21" font-weight="400" fill="#1c1f2e" font-style="italic" stroke="#ffffff" stroke-width="0.2" textLength="412.08" lengthAdjust="spacingAndGlyphs">as crucial in terms of impacts, risks and</text>
<text x="747.92" y="2063.40" font-size="21" font-weight="400" fill="#1c1f2e" font-style="italic" stroke="#ffffff" stroke-width="0.2" textLength="142.57" lengthAdjust="spacingAndGlyphs">opportunities</text>
<text x="1349.11" y="1963.12" font-size="26" font-weight="400" fill="#1c1f2e" stroke="#ffffff" stroke-width="0.25" textLength="227.42" lengthAdjust="spacingAndGlyphs">Impact materiality</text>
<text x="1350.32" y="2014.30" font-size="21" font-weight="400" fill="#1c1f2e" font-style="italic" stroke="#ffffff" stroke-width="0.2" textLength="417.08" lengthAdjust="spacingAndGlyphs">Material topics where the impacts were</text>
<text x="1353.65" y="2039.20" font-size="21" font-weight="400" fill="#1c1f2e" font-style="italic" stroke="#ffffff" stroke-width="0.2" textLength="358.12" lengthAdjust="spacingAndGlyphs">judged to be crucial in the Group’s</text>
<text x="1350.33" y="2063.40" font-size="21" font-weight="400" fill="#1c1f2e" font-style="italic" stroke="#ffffff" stroke-width="0.2" textLength="380.98" lengthAdjust="spacingAndGlyphs">assessment, but where the risks and</text>
<text x="1349.94" y="2088.70" font-size="21" font-weight="400" fill="#1c1f2e" font-style="italic" stroke="#ffffff" stroke-width="0.2" textLength="399.46" lengthAdjust="spacingAndGlyphs">opportunities are less material from a</text>
<text x="1349.92" y="2112.90" font-size="21" font-weight="400" fill="#1c1f2e" font-style="italic" stroke="#ffffff" stroke-width="0.2" textLength="201.52" lengthAdjust="spacingAndGlyphs">financial viewpoint</text>
<text x="-2.74" y="0.12" font-size="30" font-weight="400" fill="#0a0a0a" stroke="#ffffff" stroke-width="0.25" transform="translate(147.3,238.2) rotate(-90)" textLength="118.86" lengthAdjust="spacingAndGlyphs">Material</text>
<text x="-1.12" y="-0.50" font-size="29.3" font-weight="400" fill="#0a0a0a" stroke="#0a0a0a" stroke-width="1.0" transform="translate(147.4,1195.8) rotate(-90)" textLength="503.86" lengthAdjust="spacingAndGlyphs">2 = financial materiality threshold</text>
<text x="-2.74" y="0.12" font-size="30" font-weight="400" fill="#0a0a0a" stroke="#ffffff" stroke-width="0.25" transform="translate(147.4,1717.7) rotate(-90)" textLength="180.58" lengthAdjust="spacingAndGlyphs">Not Material</text>
<text x="-2.88" y="-0.50" font-size="37.5" font-weight="400" fill="#2b3249" stroke="#2b3249" stroke-width="1.0" transform="translate(37.8,1108.9) rotate(-90)" textLength="382.58" lengthAdjust="spacingAndGlyphs">Financial Materiality</text>
</svg>
</body></html>
